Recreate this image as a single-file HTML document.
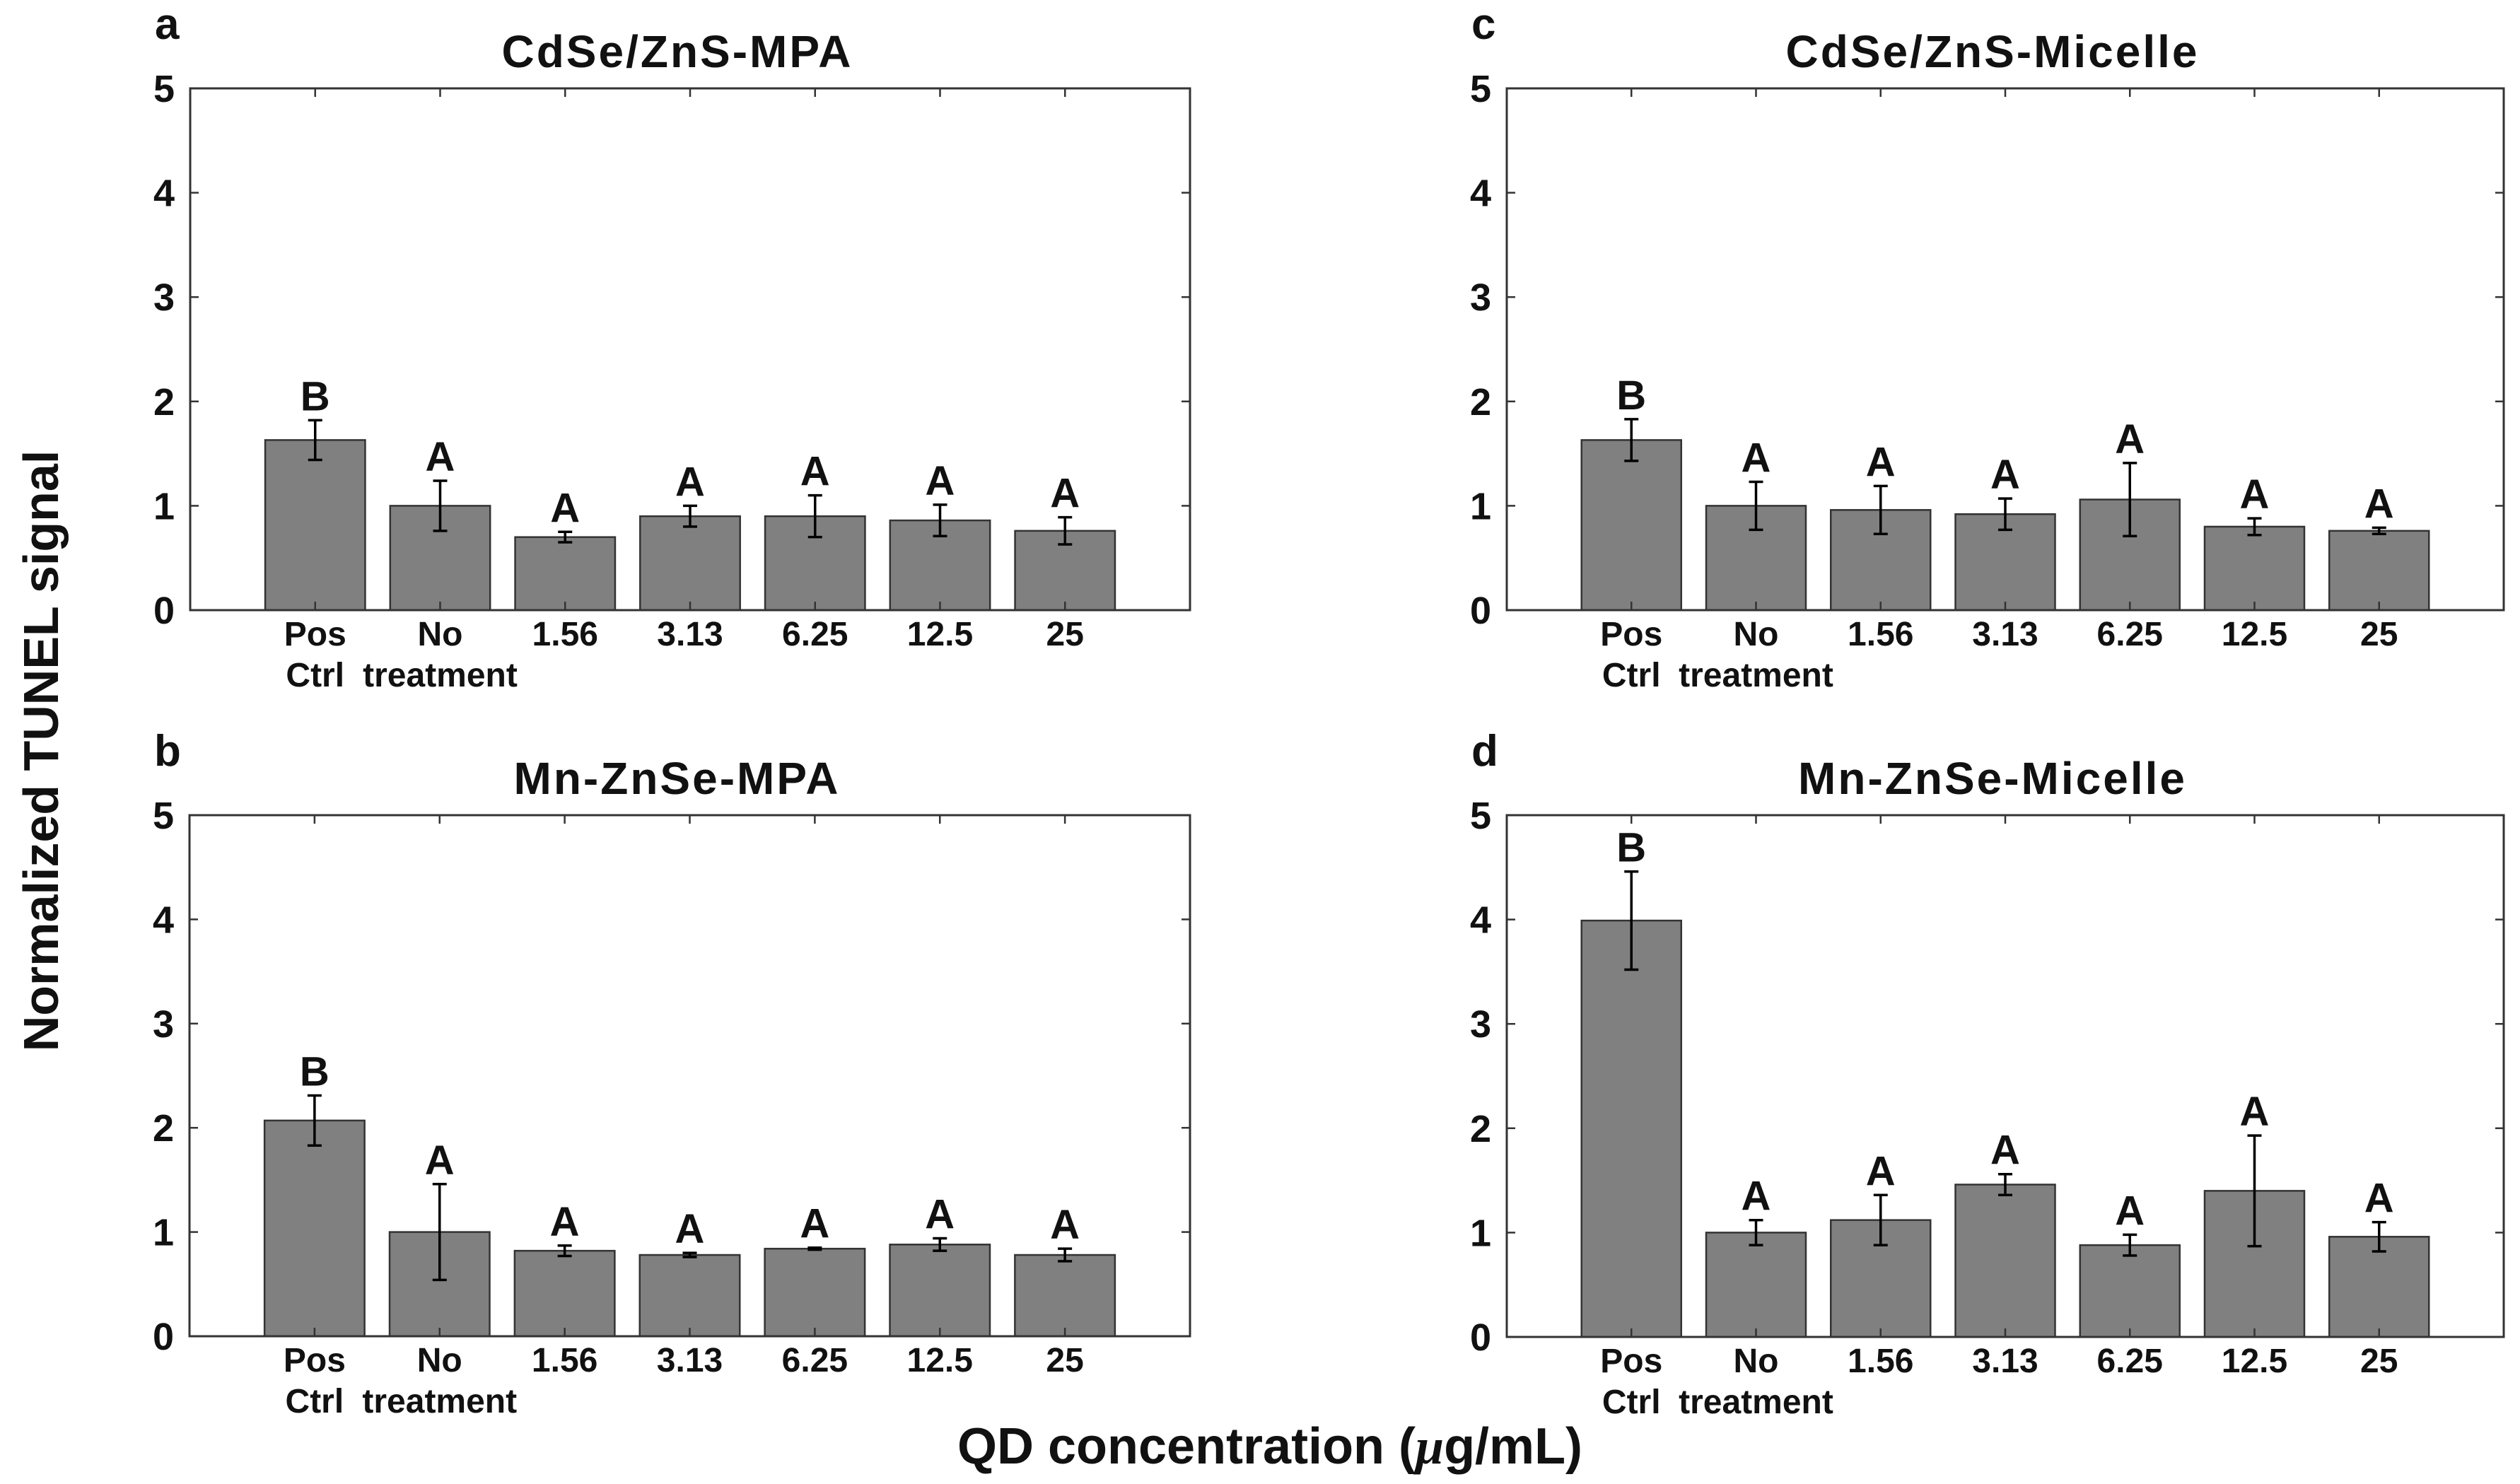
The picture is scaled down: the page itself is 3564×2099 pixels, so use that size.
<!DOCTYPE html>
<html><head><meta charset="utf-8"><style>
html,body{margin:0;padding:0;background:#fff;}
svg{display:block;font-family:"Liberation Sans",Arial,sans-serif;font-weight:bold;}
</style></head><body>
<svg id="fig" width="3564" height="2099" viewBox="0 0 3564 2099" xmlns="http://www.w3.org/2000/svg">
<text x="58" y="1062" transform="rotate(-90 58 1062)" text-anchor="middle" dominant-baseline="central" font-size="70" fill="#111">Normalized TUNEL signal</text>
<text x="1796" y="2070" text-anchor="middle" font-size="72" fill="#111">QD concentration (<tspan font-style="italic" font-family="Liberation Serif">μ</tspan>g/mL)</text>
</svg>
<script>
const categories = ["Pos", "No", "1.56", "3.13", "6.25", "12.5", "25"];
const secondLine = ["Ctrl", "treatment", "", "", "", "", ""];
const yTicks = [0, 1, 2, 3, 4, 5];
const titles = ["CdSe/ZnS-MPA", "Mn-ZnSe-MPA", "CdSe/ZnS-Micelle", "Mn-ZnSe-Micelle"];
const panelLetters = ["a", "b", "c", "d"];
const valsA = [1.63, 1.00, 0.70, 0.90, 0.90, 0.86, 0.76];
const errA  = [0.19, 0.24, 0.05, 0.10, 0.20, 0.15, 0.13];
const valsB = [2.07, 1.00, 0.82, 0.78, 0.84, 0.88, 0.78];
const errB  = [0.24, 0.46, 0.05, 0.02, 0.01, 0.06, 0.06];
const valsC = [1.63, 1.00, 0.96, 0.92, 1.06, 0.80, 0.76];
const errC  = [0.20, 0.23, 0.23, 0.15, 0.35, 0.08, 0.03];
const valsD = [3.99, 1.00, 1.12, 1.46, 0.88, 1.40, 0.96];
const errD  = [0.47, 0.12, 0.24, 0.10, 0.10, 0.53, 0.14];
const lettersA = ["B","A","A","A","A","A","A"];
const lettersB = ["B","A","A","A","A","A","A"];
const lettersC = ["B","A","A","A","A","A","A"];
const lettersD = ["B","A","A","A","A","A","A"];

const NS = "http://www.w3.org/2000/svg";
const svg = document.getElementById("fig");
function mk(tag, attrs, parent) {
  const e = document.createElementNS(NS, tag);
  for (const k in attrs) e.setAttribute(k, attrs[k]);
  (parent || svg).appendChild(e);
  return e;
}
const panels = [
  {x0:269, x1:1683, y0:125, y1:863, vals:valsA, err:errA, let:lettersA, title:titles[0], pl:panelLetters[0], name:"panel-a"},
  {x0:268, x1:1683, y0:1153, y1:1890, vals:valsB, err:errB, let:lettersB, title:titles[1], pl:panelLetters[1], name:"panel-b"},
  {x0:2131, x1:3541, y0:125, y1:863, vals:valsC, err:errC, let:lettersC, title:titles[2], pl:panelLetters[2], name:"panel-c"},
  {x0:2131, x1:3541, y0:1153, y1:1891, vals:valsD, err:errD, let:lettersD, title:titles[3], pl:panelLetters[3], name:"panel-d"}
];
panels.forEach(p => {
  const g = mk("g", {});
  
  
  const xs = v => p.x0 + (v / 8) * (p.x1 - p.x0);
  const ys = v => p.y1 - (v / 5) * (p.y1 - p.y0);
  const bw = 0.8 * (p.x1 - p.x0) / 8;
  const t = mk("text", {x:(p.x0+p.x1)/2 - 18, y:p.y0-30, "text-anchor":"middle", "font-size":64, "letter-spacing":3, fill:"#111"}, g);
  t.textContent = p.title;
  
  
  const l = mk("text", {x:p.x0-50, y:p.y0-70, "font-size":62, fill:"#111"}, g);
  l.textContent = p.pl;
  
  
  p.vals.forEach((v, i) => {
    const cx = xs(i + 1);
    const r = mk("rect", {x:cx-bw/2, y:ys(v), width:bw, height:ys(0)-ys(v), fill:"#808080", stroke:"#333", "stroke-width":2.5}, g);
    
    
    const e = p.err[i];
    const eg = mk("g", {stroke:"#000", "stroke-width":3.5}, g);
    
    
    mk("line", {x1:cx, x2:cx, y1:ys(v+e), y2:ys(v-e)}, eg);
    mk("line", {x1:cx-10, x2:cx+10, y1:ys(v+e), y2:ys(v+e)}, eg);
    mk("line", {x1:cx-10, x2:cx+10, y1:ys(v-e), y2:ys(v-e)}, eg);
    const sl = mk("text", {x:cx, y:ys(v+e)-14, "text-anchor":"middle", "font-size":58, fill:"#111"}, g);
    sl.textContent = p.let[i];
    
    
    const xl = mk("text", {x:cx, y:p.y1+50, "text-anchor":"middle", "font-size":48, fill:"#111"}, g);
    xl.textContent = categories[i];
    
    
    if (secondLine[i]) {
      const x2 = mk("text", {x:cx, y:p.y1+108, "text-anchor":"middle", "font-size":48, fill:"#111"}, g);
      x2.textContent = secondLine[i];
      
      
    }
    mk("line", {x1:cx, x2:cx, y1:p.y1, y2:p.y1-12, stroke:"#333", "stroke-width":2.5}, g);
    mk("line", {x1:cx, x2:cx, y1:p.y0, y2:p.y0+12, stroke:"#333", "stroke-width":2.5}, g);
  });
  yTicks.forEach(tv => {
    const y = ys(tv);
    mk("line", {x1:p.x0, x2:p.x0+12, y1:y, y2:y, stroke:"#333", "stroke-width":2.5}, g);
    mk("line", {x1:p.x1, x2:p.x1-12, y1:y, y2:y, stroke:"#333", "stroke-width":2.5}, g);
    const tl = mk("text", {x:p.x0-22, y:y+19, "text-anchor":"end", "font-size":54, fill:"#111"}, g);
    tl.textContent = tv;
    
    
  });
  const box = mk("rect", {x:p.x0, y:p.y0, width:p.x1-p.x0, height:p.y1-p.y0, fill:"none", stroke:"#333", "stroke-width":3}, g);
  
  
});
</script>
</body></html>
